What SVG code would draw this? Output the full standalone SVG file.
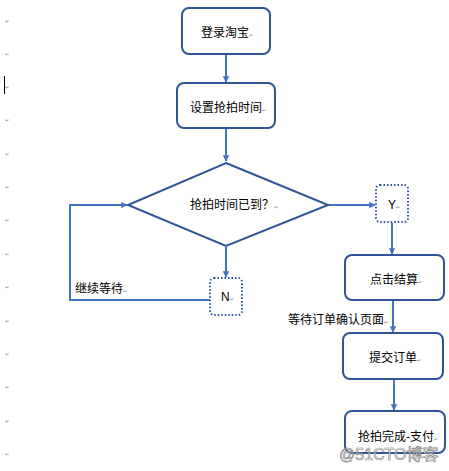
<svg xmlns="http://www.w3.org/2000/svg" width="449" height="471" viewBox="0 0 449 471">
<style>
.box{fill:#fff;stroke:#2F5597;stroke-width:2}
.dot{fill:#fff;stroke:#2F5597;stroke-width:2;stroke-dasharray:1.5 2}
.con{fill:none;stroke:#4472C4;stroke-width:2}
.t{font-family:"Liberation Sans","Noto Sans CJK SC",sans-serif;font-size:12px;fill:#000}
.pm{font-family:"DejaVu Sans",sans-serif;font-size:5px;fill:#888}
.wm{font-family:"Liberation Sans","Noto Sans CJK SC",sans-serif;font-size:16px;fill:#fff;fill-opacity:0.6;stroke:#888;stroke-width:0.7}
</style>
<defs>
<marker id="ah" viewBox="0 0 10 10" refX="9" refY="5" markerWidth="3.2" markerHeight="3.2" orient="auto" markerUnits="strokeWidth">
<path d="M0,0 L10,5 L0,10 z" fill="#4472C4"/>
</marker>
</defs>
<rect width="449" height="471" fill="#fff"/>
<g id="marks" class="pm">
<text x="5" y="23">↵</text><text x="5" y="56">↵</text><text x="5" y="89">↵</text><text x="5" y="122">↵</text><text x="5" y="156">↵</text>
<text x="5" y="189">↵</text><text x="5" y="222">↵</text><text x="5" y="256">↵</text><text x="5" y="289">↵</text>
<text x="5" y="323">↵</text><text x="5" y="356">↵</text><text x="5" y="389">↵</text><text x="5" y="423">↵</text><text x="5" y="456">↵</text>
</g>
<line x1="4.5" y1="76" x2="4.5" y2="94" stroke="#000" stroke-width="1"/>
<g id="connectors">
<line class="con" x1="226" y1="54" x2="226" y2="82" marker-end="url(#ah)"/>
<line class="con" x1="226" y1="129" x2="226" y2="161" marker-end="url(#ah)"/>
<line class="con" x1="328" y1="205" x2="375" y2="205" marker-end="url(#ah)"/>
<line class="con" x1="392" y1="223" x2="392" y2="254" marker-end="url(#ah)"/>
<line class="con" x1="393" y1="301" x2="393" y2="332" marker-end="url(#ah)"/>
<line class="con" x1="394" y1="380" x2="394" y2="410" marker-end="url(#ah)"/>
<line class="con" x1="226" y1="247" x2="226" y2="277" marker-end="url(#ah)"/>
<polyline class="con" points="210,300 70,300 70,205 127,205" marker-end="url(#ah)"/>
<text class="t" x="75" y="293">继续等待<tspan class="pm">↵</tspan></text>
<text class="t" x="288" y="324">等待订单确认页面<tspan class="pm">↵</tspan></text>
</g>
<g id="n1">
<rect class="box" x="182" y="8" width="88" height="46" rx="7"/>
<text class="t" x="201" y="37">登录淘宝<tspan class="pm">↵</tspan></text>
</g>
<g id="n2">
<rect class="box" x="177" y="83" width="98" height="45" rx="7"/>
<text class="t" x="190" y="112">设置抢拍时间<tspan class="pm">↵</tspan></text>
</g>
<g id="n3">
<polygon class="box" points="226,163 328,205 226,246 128,205"/>
<text class="t" x="190" y="209">抢拍时间已到？<tspan class="pm">↵</tspan></text>
</g>
<g id="n4">
<rect class="dot" x="376" y="185" width="32" height="37" rx="4"/>
<text class="t" x="388" y="209" fill="#333">Y<tspan class="pm">↵</tspan></text>
</g>
<g id="n5">
<rect class="dot" x="210" y="278" width="32" height="37" rx="4"/>
<text class="t" x="221" y="301">N<tspan class="pm">↵</tspan></text>
</g>
<g id="n6">
<rect class="box" x="345" y="255" width="99" height="45" rx="7"/>
<text class="t" x="370" y="284">点击结算<tspan class="pm">↵</tspan></text>
</g>
<g id="n7">
<rect class="box" x="343" y="333" width="100" height="46" rx="7"/>
<text class="t" x="369" y="362">提交订单<tspan class="pm">↵</tspan></text>
</g>
<g id="n8">
<rect class="box" x="345" y="411" width="100" height="42" rx="7"/>
<text class="t" x="358" y="441">抢拍完成-支付<tspan class="pm">↵</tspan></text>
</g>
<text class="wm" x="339" y="460">@51CTO博客</text>
</svg>
